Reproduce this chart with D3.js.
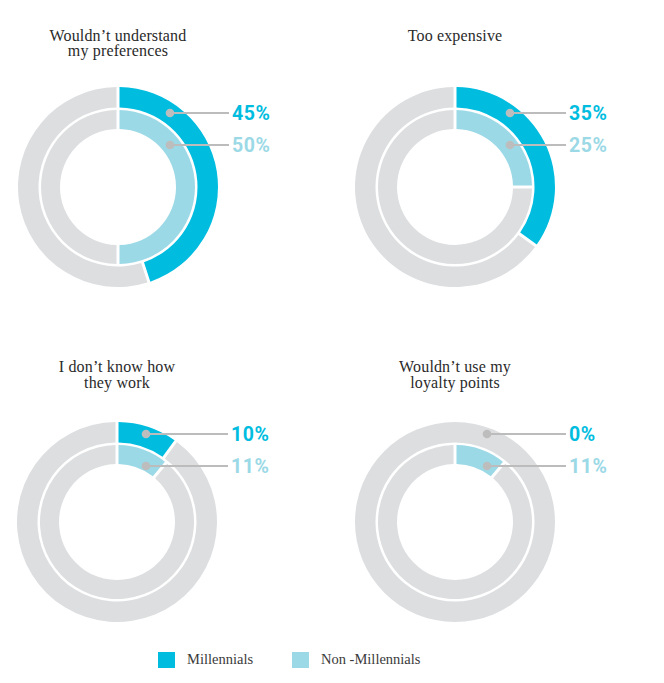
<!DOCTYPE html>
<html>
<head>
<meta charset="utf-8">
<script src="https://cdn.jsdelivr.net/npm/d3@7"></script>
<style>
  html, body { margin: 0; padding: 0; background: #fff; }
  svg { display: block; }
</style>
</head>
<body>
<div id="chart"></div>
<script>
// ---- data ----
const categories = [
  ["Wouldn’t understand", "my preferences"],
  ["Too expensive"],
  ["I don’t know how", "they work"],
  ["Wouldn’t use my", "loyalty points"]
];
const millennials = [45, 35, 10, 0];
const nonMillennials = [50, 25, 11, 11];
const seriesNames = ["Millennials", "Non -Millennials"];
const seriesColors = ["#00bde0", "#9bd9e6"];
const restColor = "#dcdee0";

// ---- layout ----
const W = 664, H = 683;
const centersX = [118, 455, 117, 455];
const centersY = [187, 187, 522, 522];
const titleY = [40.5, 40.5, 372, 372];
const labelDy = [[-74, -42], [-74, -42], [-88, -56], [-88, -56]];
const dotDx = [52, 55, 29, 32];
const rings = [
  { inner: 79.5, outer: 100 },
  { inner: 58, outer: 77 }
];

const svg = d3.select("#chart").append("svg")
  .attr("width", W).attr("height", H)
  .style("background", "#fff");

const pie = d3.pie().sort(null).value(d => d.v).startAngle(0).endAngle(2 * Math.PI);

categories.forEach((lines, i) => {
  const g = svg.append("g").attr("transform", `translate(${centersX[i]},${centersY[i]})`);
  const values = [millennials[i], nonMillennials[i]];

  values.forEach((v, s) => {
    const ring = rings[s];
    const parts = [{ v: v, c: seriesColors[s] }, { v: 100 - v, c: restColor }].filter(d => d.v > 0);
    const arcs = pie(parts);
    const arc = d3.arc()
      .innerRadius(ring.inner).outerRadius(ring.outer)
      .padRadius(100)
      .padAngle(parts.length > 1 ? 0.03 : 0);
    g.selectAll(null).data(arcs).enter().append("path")
      .attr("d", arc)
      .attr("fill", d => d.data.c);
  });

  // leader lines + labels
  values.forEach((v, s) => {
    const dy = labelDy[i][s];
    const dx = dotDx[i];
    g.append("line")
      .attr("x1", dx).attr("y1", dy)
      .attr("x2", 111).attr("y2", dy)
      .attr("stroke", "#bcbcbc").attr("stroke-width", 2);
    g.append("circle")
      .attr("cx", dx).attr("cy", dy).attr("r", 4.3)
      .attr("fill", "#bdbdbd");
    g.append("text")
      .attr("x", 114).attr("y", dy)
      .attr("dy", "0.36em")
      .attr("font-family", "Roboto, 'DejaVu Sans', sans-serif")
      .attr("font-weight", 700)
      .attr("font-size", 19.5)
      .attr("letter-spacing", 0.6)
      .attr("fill", seriesColors[s])
      .text(v + "%");
  });

  // title
  const t = svg.append("text")
    .attr("x", centersX[i]).attr("y", titleY[i])
    .attr("text-anchor", "middle")
    .attr("font-family", "'Liberation Serif', 'DejaVu Serif', serif")
    .attr("font-size", 16)
    .attr("letter-spacing", 0.15)
    .attr("fill", "#2a2a2a");
  lines.forEach((ln, k) => {
    t.append("tspan").attr("x", centersX[i]).attr("dy", k === 0 ? 0 : 15.5).text(ln);
  });
});

// legend
const legendX = [158, 292];
const legend = svg.append("g");
seriesNames.forEach((name, s) => {
  legend.append("rect")
    .attr("x", legendX[s]).attr("y", 652)
    .attr("width", 17).attr("height", 16)
    .attr("fill", seriesColors[s]);
  legend.append("text")
    .attr("x", legendX[s] + 29).attr("y", 664)
    .attr("font-family", "'Liberation Serif', 'DejaVu Serif', serif")
    .attr("font-size", 14.5)
    .attr("fill", "#3a3a3a")
    .text(name);
});
</script>
</body>
</html>
